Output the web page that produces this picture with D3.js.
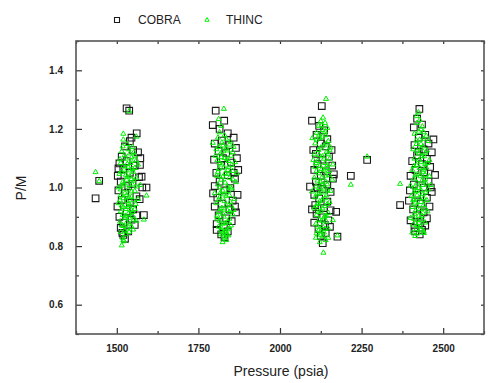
<!DOCTYPE html>
<html lang="en">
<head>
<meta charset="UTF-8">
<title>COBRA vs THINC P/M</title>
<script src="https://d3js.org/d3.v7.min.js"></script>
<style>
    body { margin: 0; background: #fff; }
    text { font-family: "Liberation Sans", Arial, sans-serif; }
</style>
</head>
<body>
<svg id="chart" width="488" height="383"></svg>
<script>
    // tick labels
    const xTicks = [1500, 1750, 2000, 2250, 2500];
    const xMinor = [1375, 1625, 1875, 2125, 2375, 2625];
    const yTicks = [0.6, 0.8, 1.0, 1.2, 1.4];
    const yMinor = [0.5, 0.7, 0.9, 1.1, 1.3, 1.5];

    // COBRA points [pressure, P/M]
    const cobra = [
        // ~1500 psia
        [1435,0.963],[1446,1.023],[1530,1.270],[1538,1.262],[1561,1.185],[1545,1.170],[1540,1.158],[1525,1.140],
        [1550,1.128],[1565,1.120],[1515,1.105],[1572,1.100],[1530,1.090],[1508,1.082],[1555,1.075],[1520,1.062],
        [1540,1.050],[1503,1.040],[1568,1.035],[1512,1.020],[1548,1.012],[1535,1.005],[1578,1.000],[1591,1.000],
        [1505,0.990],[1525,0.980],[1560,0.970],[1515,0.958],[1540,0.948],[1502,0.935],[1550,0.925],[1530,0.918],
        [1583,0.906],[1508,0.900],[1545,0.890],[1520,0.880],[1555,0.872],[1512,0.862],[1535,0.850],[1520,0.838],
        [1525,0.825],[1517,0.845],[1560,0.905],[1570,0.960],[1505,1.065],[1571,1.077],[1576,1.037],
        // ~1800 psia
        [1794,1.213],[1803,1.262],[1829,1.228],[1815,1.200],[1840,1.185],[1858,1.170],[1822,1.160],[1800,1.150],
        [1845,1.145],[1865,1.135],[1812,1.125],[1835,1.118],[1868,1.100],[1798,1.095],[1850,1.085],[1820,1.075],
        [1872,1.060],[1805,1.050],[1840,1.042],[1862,1.030],[1815,1.020],[1800,1.005],[1848,0.998],[1830,0.990],
        [1870,0.975],[1808,0.965],[1855,0.955],[1822,0.945],[1800,0.935],[1845,0.925],[1865,0.915],[1812,0.905],
        [1835,0.895],[1852,0.885],[1806,0.875],[1828,0.865],[1806,0.855],[1840,0.850],[1820,0.840],[1830,0.830],
        [1795,0.980],[1858,1.050],[1862,0.935],[1825,1.100],
        // ~2100 psia
        [2128,1.278],[2098,1.228],[2120,1.210],[2135,1.195],[2112,1.180],[2145,1.165],[2102,1.128],[2158,1.128],
        [2125,1.150],[2140,1.140],[2110,1.115],[2150,1.105],[2130,1.095],[2115,1.080],[2160,1.075],[2105,1.060],
        [2140,1.055],[2125,1.040],[2162,1.030],[2110,1.020],[2092,1.003],[2145,1.010],[2130,0.995],[2155,0.985],
        [2105,0.975],[2120,0.962],[2145,0.952],[2108,0.940],[2135,0.930],[2155,0.922],[2172,0.917],[2112,0.910],
        [2128,0.898],[2148,0.888],[2105,0.880],[2138,0.872],[2153,0.866],[2118,0.858],[2176,0.832],[2140,0.845],
        [2131,0.810],[2125,0.835],[2098,0.925],[2165,1.045],[2115,1.000],[2217,1.040],[2267,1.094],
        // ~2400 psia
        [2427,1.268],[2420,1.235],[2410,1.205],[2435,1.215],[2470,1.164],[2445,1.180],[2425,1.170],[2455,1.150],
        [2412,1.145],[2440,1.130],[2465,1.120],[2420,1.110],[2450,1.098],[2405,1.090],[2435,1.080],[2460,1.070],
        [2415,1.060],[2442,1.052],[2475,1.043],[2400,1.040],[2428,1.030],[2455,1.020],[2410,1.010],[2440,1.000],
        [2398,0.990],[2465,0.985],[2420,0.975],[2450,0.965],[2395,0.955],[2368,0.940],[2432,0.945],[2458,0.935],
        [2408,0.925],[2440,0.915],[2420,0.905],[2450,0.895],[2400,0.888],[2430,0.878],[2445,0.870],[2412,0.862],
        [2435,0.855],[2414,0.850],[2428,0.840],[2462,1.000],[2425,1.122]
    ];

    // THINC points [pressure, P/M]
    const thinc = [
        // ~1500 psia
        [1435,1.054],[1446,1.023],[1538,1.262],[1520,1.185],[1520,1.165],[1532,1.150],[1548,1.140],[1560,1.175],
        [1515,1.125],[1540,1.118],[1555,1.110],[1528,1.100],[1545,1.092],[1512,1.085],[1565,1.080],[1535,1.072],
        [1522,1.062],[1550,1.055],[1508,1.048],[1540,1.040],[1560,1.035],[1530,1.028],[1518,1.020],[1548,1.012],
        [1572,1.010],[1505,1.002],[1535,0.995],[1555,0.990],[1525,0.982],[1512,0.975],[1545,0.970],[1591,0.974],
        [1565,0.962],[1530,0.955],[1505,0.948],[1540,0.942],[1520,0.935],[1555,0.928],[1512,0.920],[1535,0.912],
        [1548,0.905],[1525,0.898],[1583,0.892],[1560,0.888],[1510,0.885],[1540,0.878],[1520,0.870],[1532,0.862],
        [1550,0.858],[1512,0.850],[1528,0.842],[1518,0.830],[1522,0.818],[1515,0.804],[1545,0.925],[1528,1.045],
        [1552,1.025],[1538,0.968],[1516,1.008],[1542,1.085],[1526,0.905],[1558,0.945],[1510,0.958],[1548,1.065],
        [1535,0.935],
        [1518,1.142],[1536,1.132],[1552,1.122],[1524,1.112],[1545,1.105],[1510,1.098],[1560,1.095],[1532,1.082],
        [1520,1.075],[1555,1.068],[1540,1.060],[1515,1.055],[1532,1.038],[1545,1.030],[1522,1.015],[1538,1.010],
        [1560,1.005],[1512,0.995],[1545,0.988],[1530,0.975],[1520,0.965],[1550,0.958],[1536,0.948],[1515,0.940],
        [1528,0.928],[1548,0.918],[1518,0.908],[1538,0.898],[1552,0.892],[1530,0.882],[1515,0.872],[1545,0.868],
        [1525,0.855],[1538,0.850],[1520,0.822],
        // ~1800 psia
        [1828,1.270],[1812,1.235],[1820,1.212],[1794,1.154],[1835,1.168],[1848,1.158],[1810,1.172],[1825,1.145],
        [1858,1.140],[1805,1.132],[1840,1.128],[1818,1.118],[1850,1.110],[1830,1.102],[1808,1.095],[1862,1.088],
        [1822,1.080],[1842,1.072],[1812,1.065],[1855,1.058],[1832,1.050],[1805,1.042],[1845,1.035],[1820,1.028],
        [1865,1.020],[1810,1.012],[1838,1.005],[1852,0.998],[1825,0.990],[1800,0.982],[1845,0.975],[1815,0.968],
        [1860,0.962],[1830,0.955],[1805,0.948],[1850,0.940],[1822,0.932],[1838,0.925],[1812,0.918],[1855,0.910],
        [1828,0.902],[1845,0.895],[1815,0.888],[1832,0.880],[1850,0.872],[1820,0.865],[1838,0.858],[1826,0.848],
        [1842,0.838],[1818,0.842],[1830,0.828],[1824,0.815],[1835,0.822],[1842,1.092],[1815,1.040],[1835,0.972],
        [1868,1.050],[1808,0.905],[1848,1.002],[1826,1.125],[1858,0.925],[1818,0.985],[1840,1.060],[1802,1.110],
        [1815,1.190],[1830,1.180],[1822,1.155],[1845,1.148],[1812,1.140],[1835,1.135],[1855,1.122],[1820,1.105],
        [1838,1.098],[1815,1.085],[1852,1.078],[1828,1.070],[1810,1.055],[1840,1.048],[1825,1.038],[1855,1.030],
        [1832,1.018],[1815,1.002],[1842,0.990],[1828,0.978],[1812,0.960],[1848,0.952],[1835,0.940],[1818,0.928],
        [1845,0.918],[1825,0.912],[1808,0.895],[1840,0.885],[1825,0.878],[1812,0.868],[1845,0.862],[1832,0.852],
        [1820,0.855],[1838,0.842],[1828,0.835],
        // ~2100 psia
        [2141,1.304],[2132,1.240],[2125,1.228],[2138,1.222],[2118,1.212],[2145,1.205],[2099,1.170],[2130,1.198],
        [2112,1.188],[2140,1.180],[2122,1.170],[2148,1.160],[2108,1.152],[2135,1.145],[2155,1.138],[2118,1.130],
        [2142,1.122],[2105,1.115],[2130,1.108],[2152,1.100],[2115,1.092],[2138,1.085],[2162,1.080],[2108,1.072],
        [2128,1.065],[2150,1.058],[2118,1.050],[2140,1.042],[2105,1.035],[2160,1.028],[2125,1.020],[2145,1.012],
        [2110,1.005],[2135,0.998],[2155,0.990],[2098,0.988],[2120,0.982],[2142,0.975],[2108,0.968],[2130,0.960],
        [2152,0.952],[2115,0.945],[2138,0.938],[2105,0.930],[2125,0.922],[2148,0.915],[2112,0.908],[2135,0.900],
        [2120,0.892],[2142,0.885],[2110,0.878],[2130,0.870],[2148,0.862],[2118,0.855],[2135,0.848],[2125,0.840],
        [2148,0.830],[2176,0.838],[2162,0.890],[2110,0.830],[2133,0.779],[2122,0.815],[2140,0.822],[2217,1.011],
        [2267,1.107],[2128,1.012],[2145,1.068],[2117,0.948],[2152,1.130],[2102,1.095],[2138,0.905],
        [2128,1.215],[2138,1.192],[2120,1.182],[2130,1.175],[2112,1.165],[2142,1.152],[2125,1.138],[2148,1.115],
        [2120,1.112],[2135,1.100],[2110,1.085],[2145,1.078],[2122,1.075],[2135,1.060],[2112,1.058],[2150,1.045],
        [2128,1.035],[2115,1.025],[2140,1.022],[2120,1.000],[2145,0.992],[2128,0.985],[2112,0.978],[2138,0.965],
        [2122,0.955],[2145,0.945],[2110,0.938],[2130,0.930],[2118,0.918],[2142,0.905],[2128,0.888],[2115,0.868],
        [2138,0.860],[2125,0.852],[2112,0.845],[2130,0.835],
        // ~2400 psia
        [2424,1.258],[2418,1.245],[2420,1.222],[2432,1.200],[2440,1.190],[2448,1.178],[2412,1.185],[2428,1.165],
        [2455,1.160],[2418,1.150],[2438,1.142],[2408,1.132],[2450,1.128],[2425,1.118],[2442,1.108],[2412,1.100],
        [2458,1.095],[2432,1.088],[2418,1.078],[2448,1.070],[2405,1.062],[2438,1.055],[2422,1.048],[2458,1.040],
        [2410,1.032],[2435,1.025],[2448,1.015],[2368,1.014],[2400,1.008],[2425,1.000],[2455,0.995],[2412,0.988],
        [2438,0.980],[2402,0.972],[2428,0.965],[2450,0.958],[2415,0.950],[2440,0.942],[2405,0.935],[2428,0.928],
        [2452,0.920],[2412,0.912],[2435,0.905],[2400,0.898],[2422,0.890],[2445,0.882],[2408,0.875],[2430,0.868],
        [2418,0.860],[2440,0.852],[2414,0.836],[2441,0.846],[2405,0.848],[2425,0.880],[2462,1.010],[2445,1.045],
        [2418,0.990],[2432,1.135],[2408,0.958],[2452,1.085],
        [2428,1.232],[2436,1.210],[2425,1.192],[2440,1.168],[2418,1.162],[2432,1.150],[2445,1.120],[2420,1.125],
        [2435,1.108],[2425,1.095],[2445,1.082],[2410,1.075],[2428,1.068],[2440,1.062],[2415,1.045],[2430,1.040],
        [2445,1.030],[2420,1.018],[2438,1.010],[2412,1.002],[2432,0.992],[2446,0.985],[2420,0.975],[2440,0.965],
        [2410,0.962],[2432,0.952],[2420,0.940],[2445,0.930],[2415,0.922],[2438,0.915],[2425,0.905],[2410,0.895],
        [2435,0.890],[2420,0.872],[2432,0.858],[2422,0.845]
    ];

    const svg = d3.select("#chart");
    const margin = { top: 41, right: 4, bottom: 49, left: 76 };
    const W = +svg.attr("width"), H = +svg.attr("height");
    const x0 = margin.left, x1 = W - margin.right;
    const y0 = H - margin.bottom, y1 = margin.top;

    const x = d3.scaleLinear().domain([1375, 2625]).range([x0, x1]);
    const y = d3.scaleLinear().domain([0.5, 1.5]).range([y0, y1]);

    // squares and triangles
    const sq = d3.symbol().type(d3.symbolSquare).size(44);
    const tri = d3.symbol().type(d3.symbolTriangle).size(11);

    svg.append("g").selectAll("path")
        .data(cobra)
        .enter().append("path")
        .attr("d", sq)
        .attr("transform", d => `translate(${x(d[0])},${y(d[1])})`)
        .attr("fill", "none")
        .attr("stroke", "#1a1a1a")
        .attr("stroke-width", 1.1);

    svg.append("g").selectAll("path")
        .data(thinc)
        .enter().append("path")
        .attr("d", tri)
        .attr("transform", d => `translate(${x(d[0])},${y(d[1]) + 0.5})`)
        .attr("fill", "none")
        .attr("stroke", "#00ee00")
        .attr("stroke-width", 1);

    // axes: major ticks pointing in, minor ticks shorter
    function styleAxis(g) {
        g.select(".domain").remove();
        g.selectAll(".tick line").attr("stroke", "#333").attr("stroke-width", 1.2);
        g.selectAll(".tick text")
            .attr("font-size", "10px")
            .attr("font-weight", "bold")
            .attr("fill", "#222");
    }

    svg.append("g")
        .attr("transform", `translate(0,${y0})`)
        .call(d3.axisBottom(x).tickValues(xTicks).tickSizeInner(-6).tickPadding(11).tickFormat(d3.format("d")))
        .call(styleAxis);
    svg.append("g")
        .attr("transform", `translate(0,${y0})`)
        .call(d3.axisBottom(x).tickValues(xMinor).tickSizeInner(-3).tickFormat(""))
        .call(styleAxis);
    svg.append("g")
        .attr("transform", `translate(0,${y1})`)
        .call(d3.axisTop(x).tickValues(xTicks.concat(xMinor)).tickSizeInner(-3).tickFormat(""))
        .call(styleAxis);

    svg.append("g")
        .attr("transform", `translate(${x0},0)`)
        .call(d3.axisLeft(y).tickValues(yTicks).tickSizeInner(-6).tickPadding(13).tickFormat(d3.format(".1f")))
        .call(styleAxis);
    svg.append("g")
        .attr("transform", `translate(${x0},0)`)
        .call(d3.axisLeft(y).tickValues(yMinor).tickSizeInner(-3).tickFormat(""))
        .call(styleAxis);
    svg.append("g")
        .attr("transform", `translate(${x1},0)`)
        .call(d3.axisRight(y).tickValues(yTicks.concat(yMinor)).tickSizeInner(-3).tickFormat(""))
        .call(styleAxis);

    // frame
    svg.append("rect")
        .attr("x", x0).attr("y", y1)
        .attr("width", x1 - x0).attr("height", y0 - y1)
        .attr("fill", "none")
        .attr("stroke", "#555")
        .attr("stroke-width", 1.6);

    // axis titles
    svg.append("text")
        .attr("x", (x0 + x1) / 2 + 1)
        .attr("y", 376)
        .attr("text-anchor", "middle")
        .attr("font-size", "14px")
        .attr("fill", "#222")
        .text("Pressure (psia)");

    svg.append("text")
        .attr("transform", "rotate(-90)")
        .attr("x", -188)
        .attr("y", 26)
        .attr("text-anchor", "middle")
        .attr("font-size", "14px")
        .attr("fill", "#222")
        .text("P/M");

    // legend
    const legend = svg.append("g");
    legend.append("path")
        .attr("d", d3.symbol().type(d3.symbolSquare).size(25))
        .attr("transform", "translate(117,20)")
        .attr("fill", "none").attr("stroke", "#1a1a1a").attr("stroke-width", 1.1);
    legend.append("text")
        .attr("x", 138).attr("y", 24)
        .attr("font-size", "12px").attr("fill", "#222")
        .text("COBRA");
    legend.append("path")
        .attr("d", d3.symbol().type(d3.symbolTriangle).size(8))
        .attr("transform", "translate(207,20)")
        .attr("fill", "none").attr("stroke", "#00ee00").attr("stroke-width", 1);
    legend.append("text")
        .attr("x", 226).attr("y", 24)
        .attr("font-size", "12px").attr("fill", "#222")
        .text("THINC");
</script>
</body>
</html>
